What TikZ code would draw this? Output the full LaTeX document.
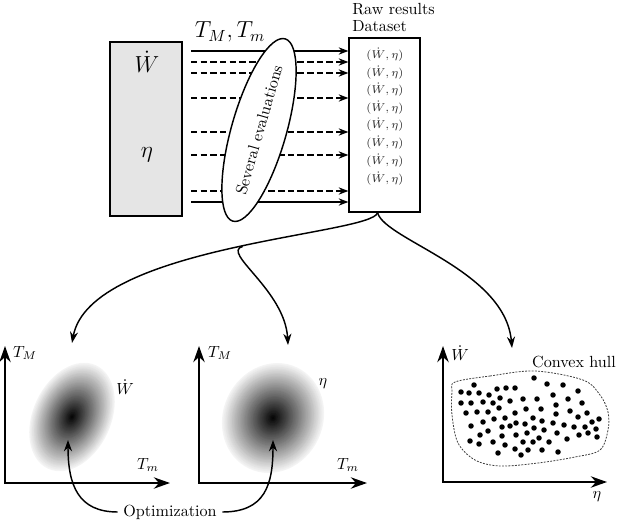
\documentclass[tikz,border=0pt]{standalone}
\usetikzlibrary{arrows.meta,shapes.geometric,calc}
\begin{document}
\begin{tikzpicture}[x=0.62pt,y=-0.62pt,
  box/.style={draw, line width=0.8pt, inner sep=0},
  flow/.style={line width=0.8pt, -{Stealth[length=6pt,width=4.5pt]}},
  dflow/.style={flow, dash pattern=on 4pt off 2pt},
  link/.style={line width=0.9pt, -{Stealth[length=7pt,width=5pt]}},
  axis/.style={line width=1.5pt, {Stealth[length=10pt,width=7pt]}-{Stealth[length=10pt,width=7pt]}},
  entry/.style={font=\scriptsize, inner sep=0, text=black!85},
  dot/.style={circle, fill, inner sep=0, minimum size=3.4pt},
  hull/.style={draw=black!75, line width=0.5pt, dash pattern=on 1.2pt off 0.8pt}]
\useasboundingbox (0,0) rectangle (623,520);

% --- top part ---
\node[box, fill=black!10, minimum width=44.6pt, minimum height=108pt] (gb) at (146,129) {};
\node[font=\Large] (wd) at (147,62) {$\dot W$};
\node[font=\Large] (et) at (147,155) {$\eta$};

\node[box, minimum width=44pt, minimum height=108pt] (ds) at (384.5,125) {};
\node[anchor=base west, inner sep=0] (raw) at (352,15) {Raw results};
\node[anchor=base west, inner sep=0] (dset) at (352,32) {Dataset};
\foreach \y [count=\i] in {55,72.5,90,107.5,125,143,161,179}
  \node[entry] (e\i) at (385,\y) {$(\dot W,\eta)$};

\foreach \y/\s [count=\i] in {51/flow,62/dflow,73/dflow,98/dflow,132/dflow,155/dflow,191/dflow,202/flow}
  {\coordinate (a\i) at (191,\y);
   \draw[\s] (a\i) -- (a\i -| ds.west);}

\node[draw, ellipse, line width=0.9pt, fill=white, rotate=74, minimum width=116pt,
      minimum height=34pt, inner sep=0] (ev) at (259,130) {Several evaluations};
\node[font=\Large] (tt) at (230,32) {$T_M,T_m$};

% --- connectors from dataset ---
\coordinate (t1) at (72,343);
\coordinate (t2) at (288,345);
\coordinate (t3) at (512,348);
\draw[link] ([xshift=-4.3pt]ds.south) .. controls (372,235) and (90,245) .. (t1)
  coordinate[pos=0.47] (br);
\draw[link] (br) .. controls +(-22,6) and +(-3,-55) .. (t2);
\draw[link] ([xshift=-4.3pt]ds.south) .. controls (385,240) and (505,270) .. (t3);

% --- plot 1 ---
\begin{scope}[shift={(72,417)}, rotate=-25]
  \foreach \k [evaluate=\k as \r using 1-\k/60, evaluate=\k as \c using int(4+96*(\k/60))] in {0,...,59}
    \fill[black!\c] (0,0) ellipse ({39*\r} and {57*\r});
\end{scope}
\coordinate (y1) at (5,346);
\coordinate (x1) at (170,483);
\draw[axis] (y1) |- (x1);
\node (tm1) at (25,353) {$T_M$};
\node (tn1) at (148,465) {$T_m$};
\node (w1) at (125,387) {$\dot W$};

% --- plot 2 ---
\begin{scope}[shift={(273,418)}, rotate=-25]
  \foreach \k [evaluate=\k as \r using 1-\k/60, evaluate=\k as \c using int(4+96*(\k/60))] in {0,...,59}
    \fill[black!\c] (0,0) ellipse ({50*\r} and {56*\r});
\end{scope}
\coordinate (y2) at (199,346);
\coordinate (x2) at (367,483);
\draw[axis] (y2) |- (x2);
\node (tm2) at (220,353) {$T_M$};
\node (tn2) at (348,465) {$T_m$};
\node (n2) at (323,384) {$\eta$};

% --- optimization ---
\node (opt) at (170,512) {Optimization};
\coordinate (b1) at (68,440);
\coordinate (b2) at (273,440);
\draw[link] (opt.west) .. controls (78,512) and (68,485) .. (b1);
\draw[link] (opt.east) .. controls (265,512) and (273,485) .. (b2);

% --- plot 3 ---
\coordinate (y3) at (443,346);
\coordinate (x3) at (607,482);
\draw[axis] (y3) |- (x3);
\node (w3) at (460,353) {$\dot W$};
\node (n3) at (597,497) {$\eta$};
\node (ch) at (574,362) {Convex hull};
\draw[hull] plot[smooth cycle, tension=0.55] coordinates {
  (455,382) (490,376) (535,371) (583,380) (600,395) (608,412) (608,430)
  (600,450) (575,457) (538,463) (500,466) (475,460) (458,443) (452,415) (452,392)};
\foreach \p [count=\i] in {
  (474,385),(461,392),(469,393),(479,393),(489,395),(497,389),(506,388),(515,388),
  (461,403),(471,403),(483,402),(493,403),(500,398),(510,401),(523,399),
  (466,413),(477,412),(488,412),(499,408),(515,413),(526,409),
  (471,426),(483,422),(494,419),(505,418),(516,423),(525,424),
  (488,431),(502,427),(510,426),
  (480,435),(502,436),(516,435),(527,433),
  (470,441),(479,444),(493,442),(505,445),(515,449),(523,442),(528,450),
  (498,453),(521,455),
  (534,378),(547,384),(563,385),(578,391),
  (553,395),(537,399),(568,399),(582,403),
  (541,409),(556,405),(570,411),(587,413),
  (533,418),(542,421),(556,414),(578,417),(592,422),(599,419),
  (534,428),(544,430),(553,423),(564,425),(574,427),(585,427),(596,429),
  (539,438),(557,433),(579,435),(588,433),(597,437),
  (533,442),(549,442),(567,439),
  (542,450),(558,452)}
  \node[dot] (d\i) at \p {};
\end{tikzpicture}
\end{document}
